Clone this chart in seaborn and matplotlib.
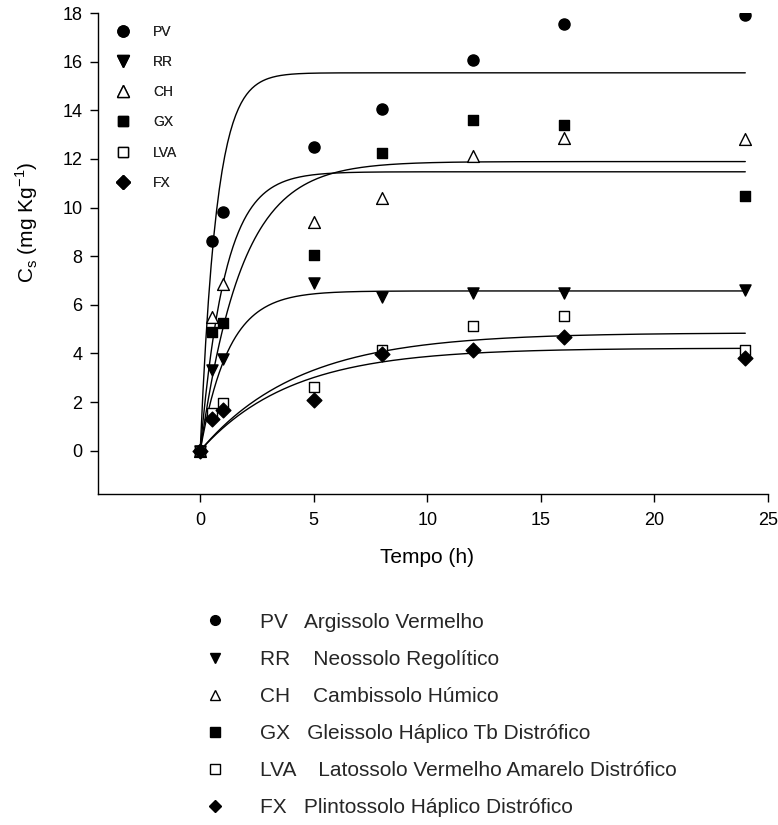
import numpy as np
import pandas as pd
import matplotlib
matplotlib.use("Agg")
import matplotlib.pyplot as plt
from matplotlib.lines import Line2D
import seaborn as sns

# ---- data ----
time_h = [0, 0.5, 1, 5, 8, 12, 16, 24]
codes = ["PV", "RR", "CH", "GX", "LVA", "FX"]
names = ["Argissolo Vermelho", "Neossolo Regolítico", "Cambissolo Húmico",
         "Gleissolo Háplico Tb Distrófico", "Latossolo Vermelho Amarelo Distrófico",
         "Plintossolo Háplico Distrófico"]
gaps = ["   ", "    ", "    ", "   ", "    ", "   "]
pv = [0, 8.64, 9.82, 12.47, 14.06, 16.05, 17.55, 17.93]
rr = [0, 3.32, 3.76, 6.89, 6.34, 6.50, 6.50, 6.61]
ch = [0, 5.49, 6.85, 9.41, 10.41, 12.10, 12.88, 12.81]
gx = [0, 4.90, 5.26, 8.05, 12.24, 13.61, 13.40, 10.49]
lva = [0, 1.55, 1.95, 2.63, 4.14, 5.14, 5.54, 4.14]
fx = [0, 1.29, 1.67, 2.09, 3.98, 4.14, 4.66, 3.80]
# fitted kinetic model parameters (pseudo-first order): q = qe * (1 - exp(-k t))
qe = [15.54, 6.57, 11.47, 11.89, 4.85, 4.22]
k_rate = [1.4, 0.8, 0.91, 0.55, 0.23, 0.25]

series = [pv, rr, ch, gx, lva, fx]

# ---- styling ----
markers = ["o", "v", "^", "s", "s", "D"]
faces = ["black", "black", "white", "black", "white", "black"]
msizes = [8, 8, 8.5, 7.5, 7.5, 7.5]

sns.set_theme(style="ticks")
plt.rcParams["font.family"] = ["Liberation Sans", "DejaVu Sans"]
plt.rcParams["mathtext.fontset"] = "custom"
plt.rcParams["mathtext.rm"] = "Liberation Sans"

W, H = 778, 825
fig = plt.figure(figsize=(W / 100, H / 100), dpi=100)
ax_l, ax_r, ax_t, ax_b = 98, 768, 13, 494
ax = fig.add_axes([ax_l / W, 1 - ax_b / H, (ax_r - ax_l) / W, (ax_b - ax_t) / H])
aw, ah = ax_r - ax_l, ax_b - ax_t

df = pd.DataFrame({"t": np.tile(time_h, len(codes)),
                   "q": np.concatenate(series),
                   "solo": np.repeat(codes, len(time_h))})

t_fit = np.linspace(0, 24, 400)
for i, c in enumerate(codes):
    fit = pd.DataFrame({"t": t_fit, "q": qe[i] * (1 - np.exp(-k_rate[i] * t_fit))})
    sns.lineplot(data=fit, x="t", y="q", color="black", linewidth=1.0, ax=ax,
                 zorder=2, legend=False)

for i, c in enumerate(codes):
    sub = df[df["solo"] == c]
    sns.scatterplot(data=sub, x="t", y="q", marker=markers[i], s=msizes[i] ** 2,
                    color=faces[i], edgecolor="black", linewidth=1.0, ax=ax,
                    zorder=3, legend=False)

ax.set_xlim(-4.5, 25)
ax.set_ylim(-1.78, 18)
ax.set_xticks([0, 5, 10, 15, 20, 25])
ax.set_yticks(np.arange(0, 19, 2))
sns.despine(ax=ax)
for sp in ["left", "bottom"]:
    ax.spines[sp].set_color("black")
    ax.spines[sp].set_linewidth(1.0)
ax.tick_params(axis="both", direction="out", length=5.8, width=1.0, color="black",
               labelsize=13, labelcolor="black")
ax.tick_params(axis="x", pad=7.5)
ax.tick_params(axis="y", pad=5.5)
ax.set_xlabel("Tempo (h)", fontsize=15, color="black", va="top")
ax.xaxis.set_label_coords((427 - ax_l) / aw, (ax_b - 548) / ah)
ax.set_ylabel(r"C$_\mathregular{s}$ (mg Kg$^\mathregular{-1}$)", fontsize=15,
              color="black")
ax.yaxis.set_label_coords((40 - ax_l) / aw, (ax_b - 222) / ah)

# inner legend (codes only)
top_handles = [Line2D([], [], linestyle="none", marker=markers[i], markersize=msizes[i],
                      markerfacecolor=faces[i], markeredgecolor="black")
               for i in range(len(codes))]
leg1 = ax.legend(top_handles, codes, loc="upper left",
                 bbox_to_anchor=(9 / aw, (ax_b - 19) / ah),
                 frameon=False, fontsize=10, handletextpad=1.41, labelspacing=1.17,
                 borderaxespad=0.0, handlelength=1.5)
ax.add_artist(leg1)

# bottom legend (codes and names)
bot_handles = [Line2D([], [], linestyle="none", marker=markers[i], markersize=msizes[i] - 1,
                      markerfacecolor=faces[i], markeredgecolor="black")
               for i in range(len(codes))]
bot_labels = [f"{c}{g}{n}" for c, g, n in zip(codes, gaps, names)]
fig.legend(bot_handles, bot_labels, loc="center left",
           bbox_to_anchor=(196.3 / W, 1 - 715 / H),
           frameon=False, fontsize=15, handletextpad=1.66, labelspacing=0.87,
           handlelength=1.0, borderaxespad=0.0)

fig.savefig("out.png", dpi=100)
